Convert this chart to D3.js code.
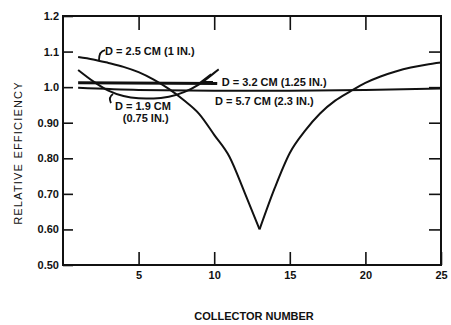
<!DOCTYPE html>
<html>
<head>
<meta charset="utf-8">
<script src="https://cdn.jsdelivr.net/npm/d3@7"></script>
<style>
  body { margin: 0; background: #fff; }
  text { font-family: "Liberation Sans", Arial, sans-serif; font-weight: bold; fill: #111; }
</style>
</head>
<body>
<div id="chart"></div>
<script>
// collector number vs relative efficiency, one array per tube diameter
const d25x = [1, 2, 3, 4, 5, 6, 7, 8, 9, 10, 11, 12, 13, 14, 15, 16, 17, 18, 19, 20, 21, 22, 23, 24, 25];
const d25y = [1.085, 1.078, 1.068, 1.057, 1.042, 1.021, 0.995, 0.963, 0.925, 0.866, 0.805, 0.705, 0.60,
              0.716, 0.815, 0.877, 0.926, 0.962, 0.988, 1.012, 1.030, 1.044, 1.055, 1.063, 1.069];

const d19x = [1, 2, 3, 4, 5, 6, 7, 8, 9, 10, 10.3];
const d19y = [1.048, 1.016, 0.99, 0.975, 0.969, 0.968, 0.973, 0.986, 1.008, 1.040, 1.050];

const d32x = [1, 10.2];
const d32y = [1.012, 1.010];

const d57x = [1, 5, 10, 15, 20, 25];
const d57y = [0.998, 0.992, 0.990, 0.990, 0.992, 0.996];

const xTicks = [5, 10, 15, 20, 25];
const yTicks = [0.5, 0.6, 0.7, 0.8, 0.9, 1.0, 1.1, 1.2];
const yTickLabels = ["0.50", "0.60", "0.70", "0.80", "0.90", "1.0", "1.1", "1.2"];

const W = 451, H = 325;
const margin = {top: 16, right: 10, bottom: 60, left: 63};
const width = W - margin.left - margin.right,
  height = H - margin.top - margin.bottom;

const x = d3.scaleLinear().domain([0, 25]).range([0, width]);
const y = d3.scaleLinear().domain([0.5, 1.2]).range([height, 0]);

const svg = d3.select("#chart").append("svg")
  .attr("width", W)
  .attr("height", H);

const g = svg.append("g")
  .attr("transform", "translate(" + margin.left + "," + margin.top + ")");

// frame
g.append("rect")
  .attr("width", width)
  .attr("height", height)
  .attr("fill", "none")
  .attr("stroke", "#111")
  .attr("stroke-width", 2);

// axes, ticks pointing inward on all four sides
const axLeft = g.append("g")
  .call(d3.axisLeft(y).tickValues(yTicks).tickSize(-10).tickPadding(4)
    .tickFormat((d, i) => yTickLabels[i]));
const axRight = g.append("g")
  .attr("transform", "translate(" + width + ",0)")
  .call(d3.axisRight(y).tickValues(yTicks.slice(1, -1)).tickSize(-12).tickFormat(""));
const axBottom = g.append("g")
  .attr("transform", "translate(0," + height + ")")
  .call(d3.axisBottom(x).tickValues(xTicks).tickSize(-13).tickPadding(6));
const axTop = g.append("g")
  .call(d3.axisTop(x).tickValues(xTicks.slice(0, -1)).tickSize(-14).tickFormat(""));

[axLeft, axRight, axBottom, axTop].forEach(a => {
  a.select(".domain").remove();
  a.selectAll("line").attr("stroke", "#111").attr("stroke-width", 1.6);
  a.selectAll("text")
    .attr("fill", "#111")
    .style("font-size", "11px")
    .style("font-family", "'Liberation Sans', Arial, sans-serif")
    .style("font-weight", "bold");
});

// curves
const line = d3.line()
  .x(d => x(d[0]))
  .y(d => y(d[1]))
  .curve(d3.curveMonotoneX);

function pairs(xs, ys) { return xs.map((v, i) => [v, ys[i]]); }

const p25 = pairs(d25x, d25y);
const iMin = d25y.indexOf(d3.min(d25y));
// split at the cusp so the V stays sharp
[p25.slice(0, iMin + 1), p25.slice(iMin)].forEach(seg => {
  g.append("path").datum(seg)
    .attr("fill", "none").attr("stroke", "#111").attr("stroke-width", 2)
    .attr("d", line);
});

g.append("path").datum(pairs(d19x, d19y))
  .attr("fill", "none").attr("stroke", "#111").attr("stroke-width", 2)
  .attr("d", line);

g.append("path").datum(pairs(d57x, d57y))
  .attr("fill", "none").attr("stroke", "#111").attr("stroke-width", 2)
  .attr("d", line);

g.append("path").datum(pairs(d32x, d32y))
  .attr("fill", "none").attr("stroke", "#111").attr("stroke-width", 3)
  .attr("d", line);

// labels and their little leaders
const labels = [
  {t: "D = 2.5 CM (1 IN.)", x: 2.78, y: 1.090},
  {t: "D = 3.2 CM (1.25 IN.)", x: 10.5, y: 1.004},
  {t: "D = 5.7 CM (2.3 IN.)", x: 10.05, y: 0.950},
  {t: "D = 1.9 CM", x: 3.44, y: 0.936},
  {t: "(0.75 IN.)", x: 3.95, y: 0.903}
];
g.selectAll(".lbl").data(labels).enter().append("text")
  .attr("class", "lbl")
  .attr("x", d => x(d.x))
  .attr("y", d => y(d.y))
  .style("font-size", "11px")
  .text(d => d.t);

const leaders = [
  [[2.38, 1.076], [2.38, 1.101], [2.78, 1.104]],
  [[3.31, 0.981], [2.98, 0.972], [3.17, 0.955]]
];
leaders.forEach(l => {
  g.append("path")
    .attr("d", "M" + x(l[0][0]) + "," + y(l[0][1]) + "Q" + x(l[1][0]) + "," + y(l[1][1]) + " " + x(l[2][0]) + "," + y(l[2][1]))
    .attr("fill", "none").attr("stroke", "#111").attr("stroke-width", 1.8);
});
const angle = [[9.79, 1.037], [9.13, 1.015], [9.92, 1.015]];
g.append("path")
  .attr("d", d3.line().x(d => x(d[0])).y(d => y(d[1]))(angle))
  .attr("fill", "none").attr("stroke", "#111").attr("stroke-width", 1.5);

// axis titles
svg.append("text")
  .attr("transform", "translate(22," + 153 + ") rotate(-90)")
  .attr("text-anchor", "middle")
  .style("font-size", "11px")
  .style("font-weight", "normal")
  .style("letter-spacing", "1.2px")
  .text("RELATIVE EFFICIENCY");

svg.append("text")
  .attr("x", margin.left + x(12.5) + 2)
  .attr("y", 320)
  .attr("text-anchor", "middle")
  .style("font-size", "11px")
  .text("COLLECTOR NUMBER");
</script>
</body>
</html>
